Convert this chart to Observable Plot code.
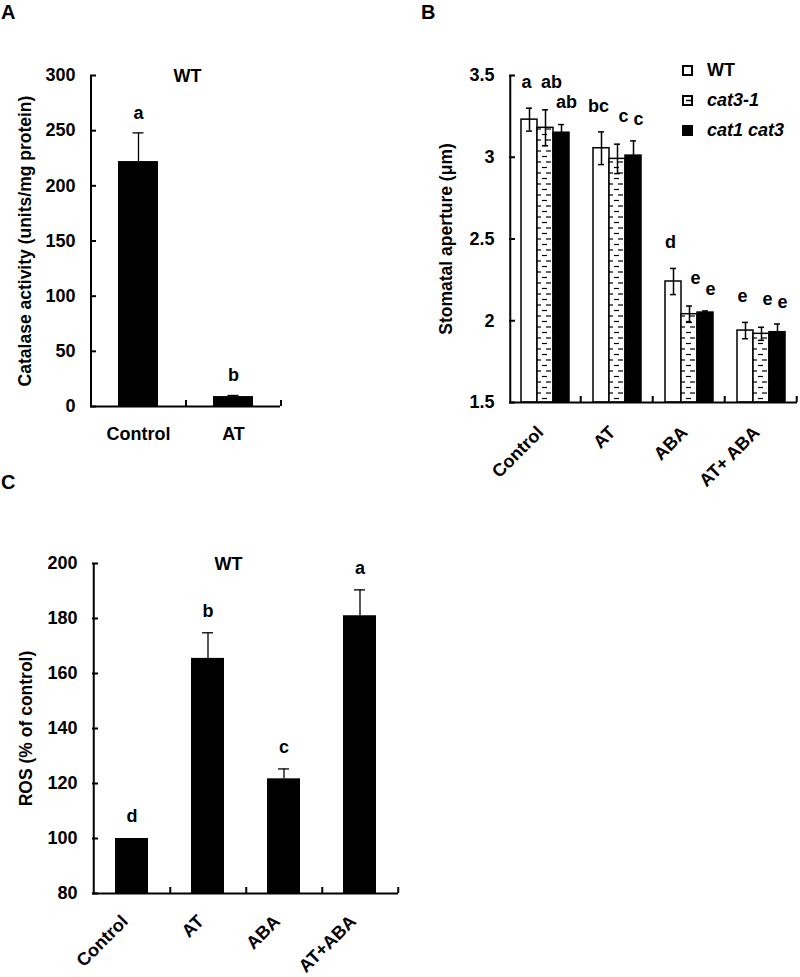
<!DOCTYPE html>
<html><head><meta charset="utf-8">
<script src="https://cdn.jsdelivr.net/npm/d3@7"></script>
<script src="https://cdn.jsdelivr.net/npm/@observablehq/plot@0.6"></script>
<style>
body{margin:0;background:#fff;font-family:"Liberation Sans",Arial,sans-serif;}
#wrap{position:relative;width:800px;height:977px;overflow:hidden;background:#fff;}
.pl{position:absolute;}
.panel{position:absolute;font-weight:bold;font-size:20px;line-height:1;color:#000;}
.leg{position:absolute;font-weight:bold;font-size:18px;line-height:1;display:flex;align-items:center;color:#000;}
.leg svg{margin-right:14px;}
</style></head><body><div id="wrap"></div>
<script>
// ---------- Data ----------
// Panel A
const catsA = ["Control", "AT"];
const valsA = [222, 9];
const errsA = [26, 1];
const lettersA = ["a", "b"];
const ticksA = [0, 50, 100, 150, 200, 250, 300];

// Panel B
const groupsB = ["Control", "AT", "ABA", "AT+ ABA"];
const seriesB = ["WT", "cat3-1", "cat1 cat3"];
const wtB = [3.23, 3.055, 2.24, 1.94];
const wtErrB = [0.07, 0.10, 0.08, 0.05];
const cat31B = [3.18, 2.99, 2.04, 1.92];
const cat31ErrB = [0.11, 0.09, 0.05, 0.04];
const cat13B = [3.15, 3.01, 2.05, 1.93];
const cat13ErrB = [0.05, 0.09, 0.01, 0.05];
const lettersWtB = ["a", "bc", "d", "e"];
const lettersCat31B = ["ab", "c", "e", "e"];
const lettersCat13B = ["ab", "c", "e", "e"];
const ticksB = [1.5, 2, 2.5, 3, 3.5];

// Panel C
const catsC = ["Control", "AT", "ABA", "AT+ABA"];
const valsC = [100, 165.5, 121.7, 181];
const errsC = [0, 9.3, 3.6, 9.4];
const lettersC = ["d", "b", "c", "a"];
const ticksC = [80, 100, 120, 140, 160, 180, 200];

// ---------- Helpers ----------
const FONT = "Liberation Sans, Arial, sans-serif";
const baseStyle = {fontFamily: FONT, fontSize: "18px", fontWeight: "bold", color: "black", background: "transparent", overflow: "visible"};
const wrap = document.getElementById("wrap");
function place(el, left, top) { el.classList.add("pl"); el.style.left = left + "px"; el.style.top = top + "px"; wrap.appendChild(el); }
function styleYLabel(svg, size) {
  d3.select(svg).selectAll("[aria-label='y-axis label'] text").style("font-size", size + "px");
}

// ---------- Panel A ----------
{
  const W = 300, H = 460, ml = 90, mr = 20, mt = 75, mb = 54;
  const step = (W - ml - mr) / catsA.length;
  const data = catsA.map((c, i) => ({cat: c, v: valsA[i], e: errsA[i], L: lettersA[i]}));
  const p = Plot.plot({
    width: W, height: H, marginLeft: ml, marginRight: mr, marginTop: mt, marginBottom: mb,
    style: baseStyle,
    x: {domain: catsA, paddingInner: 0.58, paddingOuter: 0.29},
    y: {domain: [ticksA[0], ticksA[ticksA.length - 1]]},
    marks: [
      Plot.barY(data, {x: "cat", y: "v", fill: "black"}),
      Plot.ruleX(data, {x: "cat", y1: "v", y2: d => d.v + d.e, stroke: "black", strokeWidth: 1.3}),
      Plot.tickY(data, {x: "cat", y: d => d.v + d.e, stroke: "black", strokeWidth: 1.3, insetLeft: 14.5, insetRight: 14.5}),
      Plot.text(data, {x: "cat", y: d => d.v + d.e, text: "L", dy: -20, fontSize: 18, fontWeight: "bold"}),
      Plot.ruleY([ticksA[0]], {stroke: "black", strokeWidth: 2}),
      Plot.ruleX([catsA[0]], {dx: -step / 2, stroke: "black", strokeWidth: 2}),
      Plot.ruleX(catsA, {dx: step / 2, stroke: "black", strokeWidth: 2, insetTop: H - mt - mb - 6}),
      Plot.axisY({ticks: ticksA, tickSize: -6, tickPadding: 21, strokeWidth: 2, label: "Catalase activity (units/mg protein)", labelAnchor: "center", labelOffset: 72, labelArrow: "none"}),
      Plot.axisX({tickSize: 0, tickPadding: 21, label: null}),
      Plot.text(["WT"], {frameAnchor: "top", lineAnchor: "middle", dx: 2, dy: 1, fontSize: 18, fontWeight: "bold"})
    ]
  });
  styleYLabel(p, 17.5);
  place(p, 0, 0);
}

// ---------- Panel B ----------
{
  const W = 380, H = 500, ml = 88, mr = 2, mt = 75, mb = 98;
  const facetW = (W - ml - mr) / groupsB.length;
  const po = 0.63;
  const innerStep = facetW / (seriesB.length + 2 * po);
  const edge = innerStep * (0.5 + po);
  const letterDx = [-3, 6, 5];
  const letterDy = [-26, -28, -22];
  const vals = [wtB, cat31B, cat13B], errs = [wtErrB, cat31ErrB, cat13ErrB], lets = [lettersWtB, lettersCat31B, lettersCat13B];
  const data = [];
  groupsB.forEach((g, i) => seriesB.forEach((s, j) => data.push({g, s, j, v: vals[j][i], e: errs[j][i], L: lets[j][i]})));
  const y0 = ticksB[0];
  const plotH = H - mt - mb;
  const p = Plot.plot({
    width: W, height: H, marginLeft: ml, marginRight: mr, marginTop: mt, marginBottom: mb,
    style: baseStyle,
    fx: {domain: groupsB, padding: 0},
    x: {domain: seriesB, paddingInner: 0, paddingOuter: po, axis: null},
    y: {domain: [ticksB[0], ticksB[ticksB.length - 1]]},
    color: {domain: seriesB, range: ["white", "url(#hatchB)", "black"]},
    marks: [
      Plot.barY(data, {fx: "g", x: "s", y1: () => y0, y2: "v", fill: "s", stroke: "black", strokeWidth: 1.5}),
      Plot.ruleX(data, {fx: "g", x: "s", y1: d => d.v - d.e, y2: d => d.v + d.e, stroke: "black", strokeWidth: 1.5}),
      Plot.tickY(data, {fx: "g", x: "s", y: d => d.v + d.e, stroke: "black", strokeWidth: 1.5, insetLeft: 5, insetRight: 5}),
      Plot.tickY(data, {fx: "g", x: "s", y: d => d.v - d.e, stroke: "black", strokeWidth: 1.5, insetLeft: 5, insetRight: 5}),
      ...seriesB.map((s, j) => Plot.text(data.filter(d => d.j === j), {fx: "g", x: "s", y: d => d.v + d.e, text: "L", dx: letterDx[j], dy: letterDy[j], fontSize: 18, fontWeight: "bold"})),
      Plot.ruleY([y0], {stroke: "black", strokeWidth: 2}),
      Plot.ruleX([groupsB[0]], {fx: d => d, x: () => seriesB[0], dx: -edge, stroke: "black", strokeWidth: 2}),
      Plot.ruleX(groupsB, {fx: d => d, x: () => seriesB[seriesB.length - 1], dx: edge, stroke: "black", strokeWidth: 2, insetTop: plotH - 6}),
      Plot.axisY({ticks: ticksB, tickFormat: d => String(d), tickSize: -6, tickPadding: 21, strokeWidth: 2, label: "Stomatal aperture (μm)", labelAnchor: "center", labelOffset: 70, labelArrow: "none"}),
      Plot.axisFx({anchor: "bottom", tickRotate: -45, tickSize: 0, tickPadding: 27, dx: -5, label: null})
    ]
  });
  const defs = d3.select(p).insert("defs", ":first-child");
  const pat = defs.append("pattern").attr("id", "hatchB").attr("patternUnits", "userSpaceOnUse").attr("width", 10).attr("height", 11);
  pat.append("rect").attr("width", 10).attr("height", 11).attr("fill", "white");
  pat.append("line").attr("x1", 1).attr("x2", 6).attr("y1", 2.5).attr("y2", 2.5).attr("stroke", "black").attr("stroke-width", 1.2);
  pat.append("line").attr("x1", 5).attr("x2", 10).attr("y1", 8).attr("y2", 8).attr("stroke", "black").attr("stroke-width", 1.2);
  styleYLabel(p, 17.5);
  place(p, 420, 0);

  // Legend
  const swatch = [
    `<svg width="11" height="11"><rect x="1" y="1" width="9" height="9" fill="white" stroke="black" stroke-width="2"/></svg>`,
    `<svg width="11" height="11"><rect x="1" y="1" width="9" height="9" fill="white" stroke="black" stroke-width="2"/><line x1="4" x2="9" y1="5.5" y2="5.5" stroke="black" stroke-width="1.5"/></svg>`,
    `<svg width="11" height="11"><rect x="0" y="0" width="11" height="11" fill="black"/></svg>`
  ];
  seriesB.forEach((s, j) => {
    const d = document.createElement("div");
    d.className = "leg";
    d.style.left = "682px";
    d.style.top = (61 + j * 30) + "px";
    d.innerHTML = swatch[j] + `<span style="font-style:${j === 0 ? "normal" : "italic"}">${s}</span>`;
    wrap.appendChild(d);
  });
}

// ---------- Panel C ----------
{
  const W = 420, H = 477, ml = 92, mr = 22, mt = 63, mb = 84;
  const step = (W - ml - mr) / catsC.length;
  const data = catsC.map((c, i) => ({cat: c, v: valsC[i], e: errsC[i], L: lettersC[i]}));
  const y0 = ticksC[0];
  const plotH = H - mt - mb;
  const p = Plot.plot({
    width: W, height: H, marginLeft: ml, marginRight: mr, marginTop: mt, marginBottom: mb,
    style: baseStyle,
    x: {domain: catsC, paddingInner: 0.569, paddingOuter: 0.2845},
    y: {domain: [ticksC[0], ticksC[ticksC.length - 1]]},
    marks: [
      Plot.barY(data, {x: "cat", y1: () => y0, y2: "v", fill: "black"}),
      Plot.ruleX(data.filter(d => d.e > 0), {x: "cat", y1: "v", y2: d => d.v + d.e, stroke: "black", strokeWidth: 1.3}),
      Plot.tickY(data.filter(d => d.e > 0), {x: "cat", y: d => d.v + d.e, stroke: "black", strokeWidth: 1.3, insetLeft: 11, insetRight: 11}),
      Plot.text(data, {x: "cat", y: d => d.v + d.e, text: "L", dy: -22, fontSize: 18, fontWeight: "bold"}),
      Plot.ruleY([y0], {stroke: "black", strokeWidth: 2}),
      Plot.ruleX([catsC[0]], {dx: -step / 2, stroke: "black", strokeWidth: 2}),
      Plot.ruleX(catsC, {dx: step / 2, stroke: "black", strokeWidth: 2, insetTop: plotH - 6}),
      Plot.axisY({ticks: ticksC, tickSize: -6, tickPadding: 21, strokeWidth: 2, label: "ROS (% of control)", labelAnchor: "center", labelOffset: 73, labelArrow: "none"}),
      Plot.axisX({tickRotate: -45, tickSize: 0, tickPadding: 25, dx: -7, label: null}),
      Plot.text(["WT"], {frameAnchor: "top", lineAnchor: "middle", dx: -17, dy: 1, fontSize: 18, fontWeight: "bold"})
    ]
  });
  styleYLabel(p, 17.5);
  place(p, 0, 500);
}

// ---------- Panel letters ----------
[["A", 1, 2], ["B", 421, 2], ["C", 1, 472]].forEach(([t, x, y]) => {
  const d = document.createElement("div");
  d.className = "panel";
  d.textContent = t;
  d.style.left = x + "px";
  d.style.top = y + "px";
  wrap.appendChild(d);
});
</script></body></html>
